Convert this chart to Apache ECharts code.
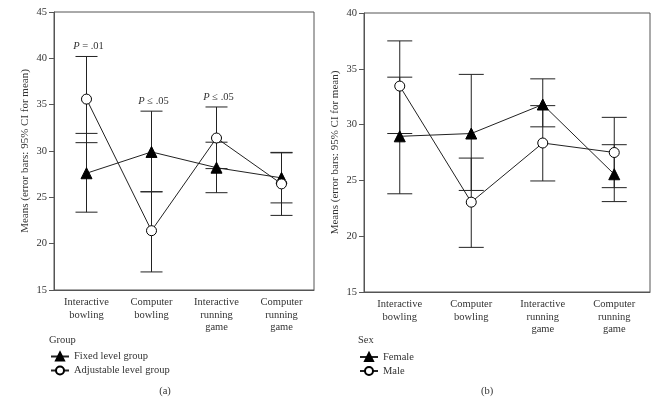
<!DOCTYPE html>
<html>
<head>
<meta charset="utf-8">
<script src="https://cdn.jsdelivr.net/npm/echarts@6/dist/echarts.min.js"></script>
<style>html,body{margin:0;padding:0;background:#fff;}#c{width:664px;height:400px;}</style>
</head>
<body>
<div id="c"></div>
<script>
const categories = ['Interactive\nbowling', 'Computer\nbowling', 'Interactive\nrunning\ngame', 'Computer\nrunning\ngame'];
const yTicksA = [15, 45, 5];
const yTicksB = [15, 40, 5];

// Panel (a): Group
const fixedMean = [27.6, 29.9, 28.2, 27.1];
const fixedLow  = [23.4, 25.6, 25.5, 24.4];
const fixedHigh = [31.9, 34.3, 30.95, 29.8];
const adjMean = [35.6, 21.4, 31.4, 26.45];
const adjLow  = [30.9, 16.95, 28.1, 23.05];
const adjHigh = [40.2, 25.6, 34.75, 29.85];
const pLabels = ['{i|P} = .01', '{i|P} \u2264 .05', '{i|P} \u2264 .05', ''];

// Panel (b): Sex
const femaleMean = [28.95, 29.2, 31.8, 25.55];
const femaleLow  = [23.8, 24.1, 29.8, 23.1];
const femaleHigh = [34.25, 34.5, 34.1, 28.2];
const maleMean = [33.45, 23.05, 28.35, 27.5];
const maleLow  = [29.2, 19.0, 24.95, 24.35];
const maleHigh = [37.5, 27.0, 31.7, 30.65];

const FONT = "'Liberation Serif','DejaVu Serif',serif";
const TXT = '#333';
const AX = '#555';

function errData(lo, hi) { return lo.map((v, i) => [i, v, hi[i]]); }
function errSeries(lo, hi, idx, capHalf) {
  return {
    type: 'custom', xAxisIndex: idx, yAxisIndex: idx, z: 2, silent: true,
    data: errData(lo, hi),
    renderItem: function (params, api) {
      const a = api.coord([api.value(0), api.value(1)]);
      const b = api.coord([api.value(0), api.value(2)]);
      const st = { stroke: '#222', lineWidth: 1 };
      return { type: 'group', children: [
        { type: 'line', shape: { x1: a[0], y1: a[1], x2: b[0], y2: b[1] }, style: st },
        { type: 'line', shape: { x1: a[0] - capHalf, y1: a[1], x2: a[0] + capHalf, y2: a[1] }, style: st },
        { type: 'line', shape: { x1: b[0] - capHalf, y1: b[1], x2: b[0] + capHalf, y2: b[1] }, style: st }
      ]};
    }
  };
}
const pTop = fixedHigh.map((v, i) => [i, Math.max(v, adjHigh[i])]);

function lineSeries(name, data, idx, filled) {
  return {
    type: 'line', name: name, xAxisIndex: idx, yAxisIndex: idx, z: 5,
    data: data,
    symbol: filled ? 'triangle' : 'circle',
    symbolSize: filled ? 11 : 10,
    showAllSymbol: true,
    lineStyle: { color: '#222', width: 1 },
    itemStyle: { color: filled ? '#000' : '#fff', borderColor: '#000', borderWidth: 1 },
    emphasis: { disabled: true },
    animation: false
  };
}

function xAx(idx) {
  return {
    type: 'category', gridIndex: idx, data: categories,
    axisLine: { lineStyle: { color: AX } }, axisTick: { show: false },
    axisLabel: { interval: 0, margin: 6, fontFamily: FONT, fontSize: 10.5, lineHeight: 12.5, color: TXT },
    splitLine: { show: false }
  };
}
function yAx(idx, t) {
  return {
    type: 'value', gridIndex: idx, min: t[0], max: t[1], interval: t[2],
    name: 'Means (error bars: 95% CI for mean)', nameLocation: 'middle', nameGap: 23,
    nameTextStyle: { fontFamily: FONT, fontSize: 11, color: TXT },
    axisLine: { show: true, lineStyle: { color: AX } },
    axisTick: { show: true, length: 5, lineStyle: { color: AX } },
    axisLabel: { margin: 7, fontFamily: FONT, fontSize: 10.5, color: TXT },
    splitLine: { show: false }
  };
}

const legendCommon = {
  orient: 'vertical', padding: 0, itemWidth: 18, itemHeight: 10, itemGap: 3, selectedMode: false,
  textStyle: { fontFamily: FONT, fontSize: 10.5, color: TXT }
};

const chart = echarts.init(document.getElementById('c'));
chart.setOption({
  animation: false,
  backgroundColor: '#fff',
  grid: [
    { left: 54, top: 12, width: 260, height: 278, show: true, borderColor: AX, borderWidth: 1 },
    { left: 364, top: 13, width: 286, height: 279, show: true, borderColor: AX, borderWidth: 1 }
  ],
  xAxis: [xAx(0), xAx(1)],
  yAxis: [yAx(0, yTicksA), yAx(1, yTicksB)],
  legend: [
    Object.assign({ data: ['Fixed level group', 'Adjustable level group'], left: 50, top: 351 }, legendCommon),
    Object.assign({ data: ['Female', 'Male'], left: 359, top: 351.5 }, legendCommon)
  ],
  graphic: [
    { type: 'text', left: 49, top: 335, style: { text: 'Group', font: "10.5px " + FONT, fill: TXT } },
    { type: 'text', left: 358, top: 335, style: { text: 'Sex', font: "10.5px " + FONT, fill: TXT } },
    { type: 'text', x: 165, y: 391, style: { text: '(a)', font: "10.5px " + FONT, fill: TXT, align: 'center', verticalAlign: 'middle' } },
    { type: 'text', x: 487, y: 391, style: { text: '(b)', font: "10.5px " + FONT, fill: TXT, align: 'center', verticalAlign: 'middle' } }
  ],
  series: [
    errSeries(fixedLow, fixedHigh, 0, 11),
    errSeries(adjLow, adjHigh, 0, 11),
    errSeries(femaleLow, femaleHigh, 1, 12.5),
    errSeries(maleLow, maleHigh, 1, 12.5),
    {
      type: 'custom', xAxisIndex: 0, yAxisIndex: 0, z: 6, silent: true,
      data: pTop,
      renderItem: function (params, api) {
        const t = pLabels[params.dataIndex];
        if (!t) return null;
        const p = api.coord([api.value(0), api.value(1)]);
        return { type: 'text', x: p[0] + 2, y: p[1] - 10,
          style: { text: t, fontFamily: FONT, fontSize: 10.5, fill: TXT, align: 'center', verticalAlign: 'middle',
            rich: { i: { fontFamily: FONT, fontSize: 10.5, fontStyle: 'italic', fill: TXT } } } };
      }
    },
    lineSeries('Fixed level group', fixedMean, 0, true),
    lineSeries('Adjustable level group', adjMean, 0, false),
    lineSeries('Female', femaleMean, 1, true),
    lineSeries('Male', maleMean, 1, false)
  ]
});
</script>
</body>
</html>
